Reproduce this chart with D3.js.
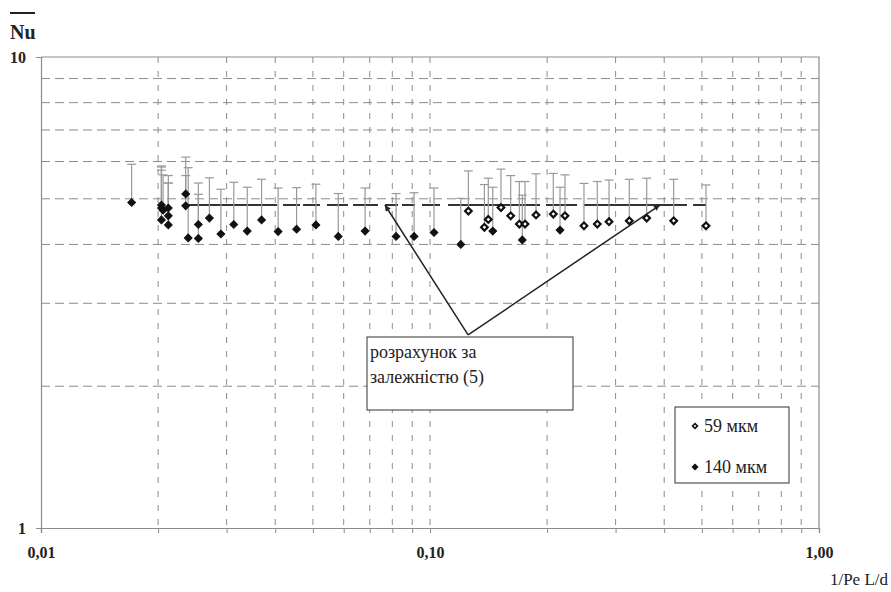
<!DOCTYPE html>
<html>
<head>
<meta charset="utf-8">
<script src="https://cdn.jsdelivr.net/npm/d3@7"></script>
<style>
  body { margin: 0; background: #fff; }
  svg text { font-family: "Liberation Serif", "DejaVu Serif", serif; }
</style>
</head>
<body>
<div id="chart"></div>
<script>
// 140 мкм series (filled diamonds)
const x140 = [0.0171, 0.0204, 0.0204, 0.0204, 0.0206, 0.02125, 0.02125, 0.02125,
  0.02355, 0.02355, 0.0239, 0.02538, 0.02538, 0.0271, 0.029, 0.0313, 0.0339,
  0.0369, 0.0407, 0.0454, 0.0509, 0.0581, 0.0681, 0.0818, 0.091, 0.1024,
  0.12, 0.145, 0.1727, 0.2159];
const nu140 = [4.91, 4.85, 4.78, 4.51, 4.73, 4.78, 4.6, 4.4,
  5.12, 4.83, 4.13, 4.41, 4.12, 4.55, 4.21, 4.41, 4.27,
  4.51, 4.26, 4.31, 4.4, 4.16, 4.27, 4.16, 4.16, 4.24,
  4.0, 4.27, 4.09, 4.29];
const top140 = [5.92, 5.87, 5.84, 5.75, 5.62, 5.6, 5.4, 5.4,
  6.13, 5.6, 5.82, 5.4, 5.11, 5.54, 5.24, 5.42, 5.29,
  5.5, 5.27, 5.28, 5.37, 5.13, 5.27, 5.13, 5.15, 5.27,
  5.01, 5.29, 5.09, 5.29];

// 59 мкм series (open diamonds)
const x59 = [0.1255, 0.138, 0.1412, 0.1522, 0.1612, 0.1697, 0.1755, 0.1873,
  0.2075, 0.2223, 0.2488, 0.2692, 0.2886, 0.3253, 0.3606, 0.4231, 0.5123];
const nu59 = [4.71, 4.35, 4.52, 4.79, 4.6, 4.42, 4.42, 4.62,
  4.64, 4.6, 4.38, 4.42, 4.47, 4.49, 4.55, 4.49, 4.38];
const top59 = [5.73, 5.36, 5.53, 5.78, 5.6, 5.44, 5.44, 5.65,
  5.66, 5.62, 5.39, 5.44, 5.48, 5.5, 5.53, 5.5, 5.35];

// calculation by dependence (5): constant Nu, drawn in pieces
const calcNu = 4.85;
const calcSegments = [[0.02317, 0.04044], [0.04189, 0.04633], [0.04716, 0.05215],
  [0.05436, 0.06155], [0.0634, 0.07349], [0.07661, 0.08274], [0.08472, 0.0915],
  [0.09537, 0.1061], [0.1113, 0.1918], [0.1987, 0.2387], [0.2488, 0.4578],
  [0.4745, 0.5123]];

const xLabelTicks = [0.01, 0.1, 1];
const yLabelTicks = [1, 10];
const xGrid = [0.02, 0.03, 0.04, 0.05, 0.06, 0.07, 0.08, 0.09, 0.1,
  0.2, 0.3, 0.4, 0.5, 0.6, 0.7, 0.8, 0.9];
const yGrid = [2, 3, 4, 5, 6, 7, 8, 9];

const width = 891;
const height = 592;
const plotLeft = 41, plotRight = 819, plotTop = 57, plotBottom = 528;
const serif = "Liberation Serif, DejaVu Serif, serif";

const svg = d3
  .select("#chart")
  .append("svg")
  .attr("width", width)
  .attr("height", height);

const x = d3.scaleLog().domain([0.01, 1]).range([plotLeft, plotRight]);
const y = d3.scaleLog().domain([1, 10]).range([plotBottom, plotTop]);

// Grid
svg
  .selectAll("line.vgrid")
  .data(xGrid)
  .enter()
  .append("line")
  .attr("class", "vgrid")
  .attr("x1", (d) => x(d))
  .attr("x2", (d) => x(d))
  .attr("y1", plotTop)
  .attr("y2", plotBottom)
  .attr("stroke", "#8c8c8c")
  .attr("stroke-width", 1)
  .attr("stroke-dasharray", "6,8");

svg
  .selectAll("line.hgrid")
  .data(yGrid)
  .enter()
  .append("line")
  .attr("class", "hgrid")
  .attr("x1", plotLeft)
  .attr("x2", plotRight)
  .attr("y1", (d) => y(d))
  .attr("y2", (d) => y(d))
  .attr("stroke", "#8c8c8c")
  .attr("stroke-width", 1)
  .attr("stroke-dasharray", "9,5");

// Frame (top and right)
svg
  .append("path")
  .attr("d", `M${plotLeft},${plotTop}H${plotRight}V${plotBottom}`)
  .attr("fill", "none")
  .attr("stroke", "#8c8c8c")
  .attr("stroke-width", 1.2);

// Axes
const xMinor = svg
  .append("g")
  .attr("transform", `translate(0,${plotBottom})`)
  .call(d3.axisBottom(x).tickValues(xGrid).tickSize(5).tickFormat(""));

const xAxis = svg
  .append("g")
  .attr("transform", `translate(0,${plotBottom})`)
  .call(
    d3
      .axisBottom(x)
      .tickValues(xLabelTicks)
      .tickSize(5)
      .tickPadding(14)
      .tickFormat((d) => d.toFixed(2).replace(".", ","))
  );

const yAxis = svg
  .append("g")
  .attr("transform", `translate(${plotLeft},0)`)
  .call(
    d3
      .axisLeft(y)
      .tickValues(yLabelTicks)
      .tickSize(5)
      .tickPadding(10)
      .tickFormat(d3.format("d"))
  );

[xMinor, xAxis, yAxis].forEach((g) => {
  g.attr("font-family", serif);
  g.select(".domain").attr("stroke", "#8c8c8c").attr("stroke-width", 1.2);
  g.selectAll(".tick line").attr("stroke", "#8c8c8c");
  g.selectAll(".tick text")
    .attr("fill", "#222")
    .attr("font-weight", "bold")
    .attr("font-size", "16px");
});

// Axis titles
svg
  .append("text")
  .attr("x", 10)
  .attr("y", 39)
  .attr("font-size", "20px")
  .attr("font-weight", "bold")
  .attr("fill", "#222")
  .text("Nu");

svg
  .append("line")
  .attr("x1", 10)
  .attr("x2", 35)
  .attr("y1", 13)
  .attr("y2", 13)
  .attr("stroke", "#222")
  .attr("stroke-width", 2);

svg
  .append("text")
  .attr("x", 888)
  .attr("y", 585)
  .attr("text-anchor", "end")
  .attr("font-size", "17px")
  .attr("fill", "#222")
  .text("1/Pe L/d");

// Calculation line
svg
  .selectAll("line.calc")
  .data(calcSegments)
  .enter()
  .append("line")
  .attr("class", "calc")
  .attr("x1", (d) => x(d[0]))
  .attr("x2", (d) => x(d[1]))
  .attr("y1", y(calcNu))
  .attr("y2", y(calcNu))
  .attr("stroke", "#333")
  .attr("stroke-width", 2);

// Error bars + markers
const series = [
  { xs: x140, nus: nu140, tops: top140, open: false },
  { xs: x59, nus: nu59, tops: top59, open: true },
];

series.forEach((s) => {
  const pts = s.xs.map((d, i) => ({ x: d, nu: s.nus[i], hi: s.tops[i] }));

  const bars = svg.append("g");
  bars
    .selectAll("line.err")
    .data(pts)
    .enter()
    .append("line")
    .attr("class", "err")
    .attr("x1", (d) => x(d.x))
    .attr("x2", (d) => x(d.x))
    .attr("y1", (d) => y(d.nu))
    .attr("y2", (d) => y(d.hi))
    .attr("stroke", "#999")
    .attr("stroke-width", 1.2);
  bars
    .selectAll("line.cap")
    .data(pts)
    .enter()
    .append("line")
    .attr("class", "cap")
    .attr("x1", (d) => x(d.x) - 4.5)
    .attr("x2", (d) => x(d.x) + 4.5)
    .attr("y1", (d) => y(d.hi))
    .attr("y2", (d) => y(d.hi))
    .attr("stroke", "#999")
    .attr("stroke-width", 1.2);
});

series.forEach((s) => {
  const pts = s.xs.map((d, i) => ({ x: d, nu: s.nus[i] }));
  svg
    .append("g")
    .selectAll("path")
    .data(pts)
    .enter()
    .append("path")
    .attr("d", d3.symbol(d3.symbolSquare, s.open ? 22 : 30))
    .attr("transform", (d) => `translate(${x(d.x)},${y(d.nu)}) rotate(45)`)
    .attr("fill", s.open ? "#fff" : "#111")
    .attr("stroke", "#111")
    .attr("stroke-width", s.open ? 2.2 : 1);
});

// Annotation: box with two arrows to the calculation line
svg
  .append("defs")
  .append("marker")
  .attr("id", "arrow")
  .attr("viewBox", "0 0 10 10")
  .attr("refX", 10)
  .attr("refY", 5)
  .attr("markerWidth", 10)
  .attr("markerHeight", 6)
  .attr("markerUnits", "userSpaceOnUse")
  .attr("orient", "auto")
  .append("path")
  .attr("d", "M0,0L10,5L0,10Z")
  .attr("fill", "#222");

const noteFrom = [0.1253, 2.57];
const noteTargets = [[0.0766, calcNu], [0.39, calcNu]];

svg
  .selectAll("line.arrow")
  .data(noteTargets)
  .enter()
  .append("line")
  .attr("class", "arrow")
  .attr("x1", x(noteFrom[0]))
  .attr("y1", y(noteFrom[1]))
  .attr("x2", (d) => x(d[0]))
  .attr("y2", (d) => y(d[1]))
  .attr("stroke", "#222")
  .attr("stroke-width", 1.5)
  .attr("marker-end", "url(#arrow)");

const box = svg.append("g").attr("transform", "translate(367,337)");
box
  .append("rect")
  .attr("width", 206)
  .attr("height", 73)
  .attr("fill", "#fff")
  .attr("stroke", "#333")
  .attr("stroke-width", 1);
["розрахунок за", "залежністю (5)"].forEach((t, i) => {
  box
    .append("text")
    .attr("x", 3)
    .attr("y", 21 + i * 25)
    .attr("font-size", "18px")
    .attr("fill", "#222")
    .text(t);
});

// Legend
const legend = svg.append("g").attr("transform", "translate(675,407)");
legend
  .append("rect")
  .attr("width", 114)
  .attr("height", 76)
  .attr("fill", "#fff")
  .attr("stroke", "#333")
  .attr("stroke-width", 1);

const legendItems = [
  { label: "59 мкм", open: true },
  { label: "140 мкм", open: false },
];
legendItems.forEach((d, i) => {
  const ly = 19 + i * 41;
  legend
    .append("path")
    .attr("d", d3.symbol(d3.symbolSquare, d.open ? 12 : 16))
    .attr("transform", `translate(20,${ly}) rotate(45)`)
    .attr("fill", d.open ? "#fff" : "#111")
    .attr("stroke", "#111")
    .attr("stroke-width", d.open ? 1.6 : 1);
  legend
    .append("text")
    .attr("x", 29)
    .attr("y", ly + 6)
    .attr("font-size", "18px")
    .attr("fill", "#222")
    .text(d.label);
});
</script>
</body>
</html>
